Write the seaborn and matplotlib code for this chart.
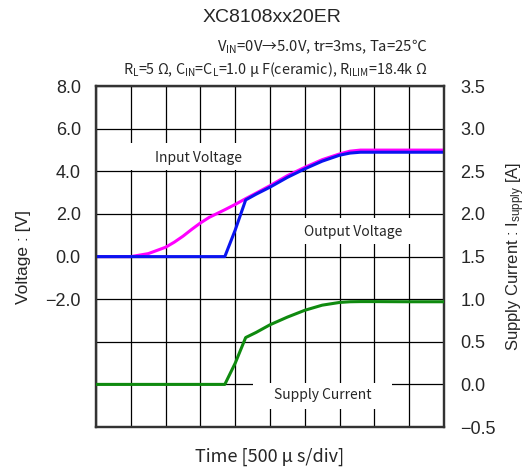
import numpy as np
import pandas as pd
import seaborn as sns
import matplotlib.pyplot as plt
from matplotlib.patches import Rectangle

# time in divisions (500 us / div)
time_div = [0, 1.0, 1.5, 2.0, 2.25, 2.5, 2.75, 3.0, 3.25, 3.5, 3.7, 4.0, 4.3, 4.6, 5.0, 5.5, 6.0, 6.5, 7.0, 7.3, 7.6, 8.0, 9.0, 10.0]
# input voltage [V]
v_in = [0, 0, 0.14, 0.44, 0.68, 0.96, 1.28, 1.58, 1.84, 2.04, 2.20, 2.45, 2.72, 2.98, 3.33, 3.80, 4.19, 4.55, 4.82, 4.95, 5.0, 5.0, 5.0, 5.0]
# output voltage [V]
v_out = [0, 0, 0, 0, 0, 0, 0, 0, 0, 0, 0, 1.25, 2.66, 2.93, 3.26, 3.72, 4.12, 4.48, 4.76, 4.86, 4.9, 4.9, 4.9, 4.9]
# supply current [A]
i_supply = [0, 0, 0, 0, 0, 0, 0, 0, 0, 0, 0, 0.25, 0.55, 0.61, 0.70, 0.79, 0.87, 0.93, 0.962, 0.97, 0.972, 0.972, 0.97, 0.97]

volt_ticks = [8, 6, 4, 2, 0, -2, -4, -6, -8]
volt_labels = ["8.0", "6.0", "4.0", "2.0", "0.0", "\u22122.0", "", "", ""]
amp_ticks = [3.5, 3.0, 2.5, 2.0, 1.5, 1.0, 0.5, 0.0, -0.5]
amp_labels = ["3.5", "3.0", "2.5", "2.0", "1.5", "1.0", "0.5", "0.0", "\u22120.5"]

df = pd.DataFrame({"t": time_div, "vin": v_in, "vout": v_out, "isup": i_supply})

sns.set_theme(style="white")
plt.rcParams["font.family"] = ["Liberation Sans", "DejaVu Sans"]
plt.rcParams["mathtext.fontset"] = "custom"
plt.rcParams["mathtext.rm"] = "Liberation Sans"
plt.rcParams["mathtext.default"] = "regular"
jp = ["Noto Sans CJK JP", "DejaVu Sans"]

fig = plt.figure(figsize=(5.31, 4.71), dpi=100)
ax = fig.add_axes([0.181, 0.0934, 0.655, 0.7236])
ax2 = ax.twinx()

ax.set_xlim(0, 10)
ax.set_ylim(-8, 8)
ax2.set_ylim(-0.5, 3.5)

ax.set_xticks(range(11))
ax.set_xticklabels([])
ax.set_yticks(volt_ticks)
ax.set_yticklabels(volt_labels, fontsize=13)
ax2.set_yticks(amp_ticks)
ax2.set_yticklabels(amp_labels, fontsize=13)
ax.tick_params(length=0, pad=11)
ax2.tick_params(length=0, pad=12)
ax.grid(True, color="black", lw=0.9)
ax.set_axisbelow(True)

for a in (ax, ax2):
    for s in a.spines.values():
        s.set_color("#333333")
        s.set_linewidth(1.6)

# white boxes behind the curve labels
for (x0, y0, w, h) in [(0.81, 4.05, 3.95, 1.3), (5.42, 0.6, 4.5, 1.2), (4.5, -7.15, 4.0, 1.2)]:
    ax.add_patch(Rectangle((x0, y0), w, h, facecolor="white", edgecolor="none", zorder=1.5))

sns.lineplot(data=df, x="t", y="vin", ax=ax, color="#ff00ff", lw=2.2, zorder=3)
sns.lineplot(data=df, x="t", y="vout", ax=ax, color="#0a14f0", lw=2.2, zorder=4)
sns.lineplot(data=df, x="t", y="isup", ax=ax2, color="#0f8a0f", lw=2.2, zorder=3)

ax.set_xlabel("Time [500 \u03bc s/div]", fontsize=13, family=jp, labelpad=4)
ax.set_ylabel("Voltage : [V]", fontsize=12.5, labelpad=10)
ax2.set_ylabel("Supply Current : I$_{supply}$ [A]", fontsize=12, labelpad=6)

ax.text(2.94, 4.65, "Input Voltage", fontsize=10, family=jp, ha="center", va="center", zorder=5)
ax.text(7.38, 1.15, "Output Voltage", fontsize=10, family=jp, ha="center", va="center", zorder=5)
ax.text(6.51, -6.5, "Supply Current", fontsize=10, family=jp, ha="center", va="center", zorder=5)

fig.text(0.512, 0.962, "XC8108xx20ER", fontsize=14, ha="center", va="center")
fig.text(0.804, 0.900, "V$_{IN}$=0V\u21925.0V, tr=3ms, Ta=25\u2103", fontsize=10.7, family=jp, ha="right", va="center")
fig.text(0.804, 0.852, "R$_{L}$=5 \u03a9, C$_{IN}$=C$_{L}$=1.0 \u03bc F(ceramic), R$_{ILIM}$=18.4k \u03a9",
         fontsize=10.3, family=jp, ha="right", va="center")

fig.savefig("out.png", dpi=100)
